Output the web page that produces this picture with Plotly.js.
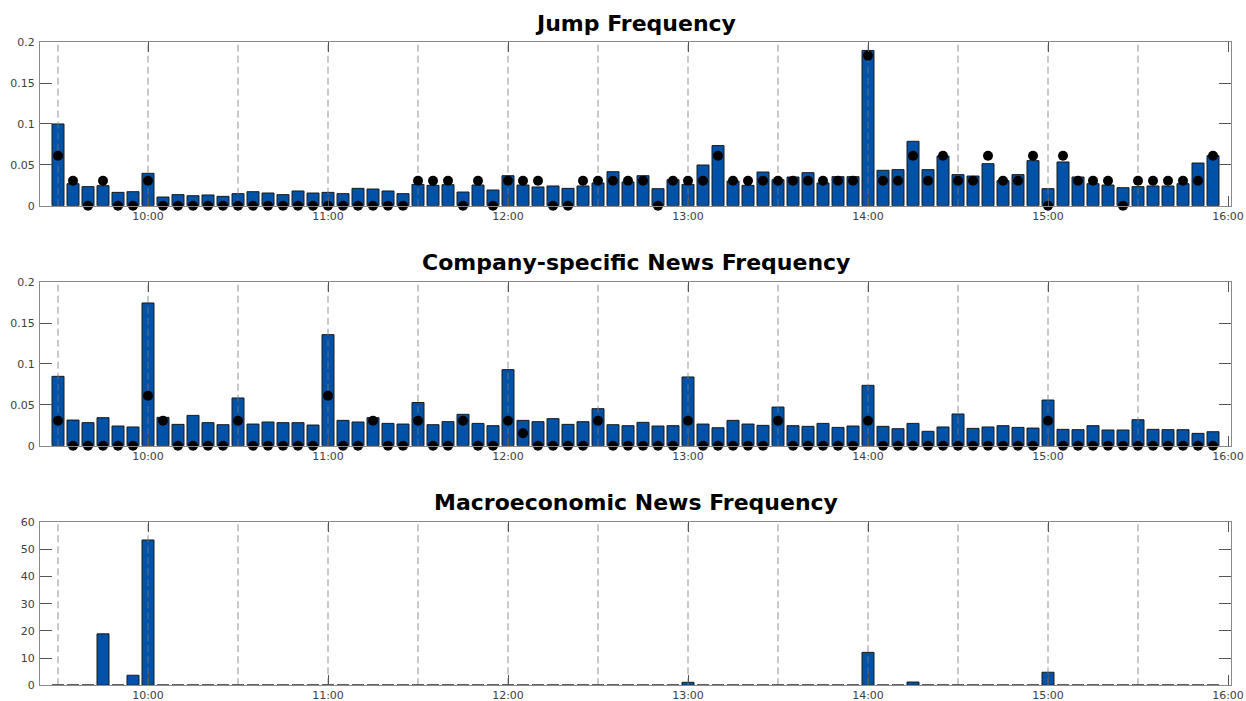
<!DOCTYPE html>
<html>
<head>
<meta charset="utf-8">
<script src="https://cdn.plot.ly/plotly-3.0.1.min.js"></script>
<style>html,body{margin:0;padding:0;background:#fff;}#chart{width:1246px;height:701px;}</style>
</head>
<body>
<div id="chart"></div>
<script>
// 5-minute slots from 09:30 to 15:55 (index 0..77)
const hourTickSlots = [6, 18, 30, 42, 54, 66, 78];
const hourTickLabels = ["10:00", "11:00", "12:00", "13:00", "14:00", "15:00", "16:00"];
const halfHourSlots = [0, 6, 12, 18, 24, 30, 36, 42, 48, 54, 60, 66, 72];

const jumpFreq = [
  0.100, 0.0269, 0.0233, 0.0245, 0.0163, 0.0171, 0.0396, 0.0106, 0.0135, 0.0122,
  0.0131, 0.0114, 0.0147, 0.0171, 0.0155, 0.0135, 0.0180, 0.0155, 0.0163, 0.0147,
  0.0212, 0.0204, 0.0180, 0.0147, 0.0261, 0.0249, 0.0257, 0.0167, 0.0253, 0.0192,
  0.0367, 0.0253, 0.0229, 0.0241, 0.0212, 0.0241, 0.0278, 0.0416, 0.0290, 0.0367,
  0.0208, 0.0318, 0.0261, 0.0498, 0.0735, 0.0302, 0.0249, 0.0412, 0.0318, 0.0351,
  0.0404, 0.0278, 0.0355, 0.0355, 0.190, 0.0433, 0.0441, 0.0788, 0.0441, 0.0608,
  0.0380, 0.0363, 0.0514, 0.0306, 0.0380, 0.0551, 0.0208, 0.0535, 0.0351, 0.0269,
  0.0253, 0.0220, 0.0233, 0.0241, 0.0241, 0.0269, 0.0522, 0.0612
];
const jumpDots = [
  0.0612, 0.0306, 0, 0.0306, 0, 0, 0.0306, 0, 0, 0,
  0, 0, 0, 0, 0, 0, 0, 0, 0, 0,
  0, 0, 0, 0, 0.0306, 0.0306, 0.0306, 0, 0.0306, 0,
  0.0306, 0.0306, 0.0306, 0, 0, 0.0306, 0.0306, 0.0306, 0.0306, 0.0306,
  0, 0.0306, 0.0306, 0.0306, 0.0612, 0.0306, 0.0306, 0.0306, 0.0306, 0.0306,
  0.0306, 0.0306, 0.0306, 0.0306, 0.1837, 0.0306, 0.0306, 0.0612, 0.0306, 0.0612,
  0.0306, 0.0306, 0.0612, 0.0306, 0.0306, 0.0612, 0, 0.0612, 0.0306, 0.0306,
  0.0306, 0, 0.0306, 0.0306, 0.0306, 0.0306, 0.0306, 0.0612
];

const companyFreq = [
  0.0849, 0.0314, 0.0282, 0.0343, 0.0241, 0.0229, 0.1747, 0.0347, 0.0261, 0.0371,
  0.0282, 0.0257, 0.0584, 0.0265, 0.0290, 0.0282, 0.0282, 0.0253, 0.1359, 0.0310,
  0.0290, 0.0343, 0.0273, 0.0265, 0.0529, 0.0257, 0.0294, 0.0384, 0.0273, 0.0245,
  0.0931, 0.0310, 0.0294, 0.0331, 0.0261, 0.0294, 0.0453, 0.0257, 0.0245, 0.0286,
  0.0241, 0.0245, 0.0841, 0.0265, 0.0220, 0.0310, 0.0265, 0.0249, 0.0473, 0.0245,
  0.0237, 0.0273, 0.0224, 0.0241, 0.0739, 0.0237, 0.0208, 0.0273, 0.0176, 0.0229,
  0.0388, 0.0212, 0.0229, 0.0245, 0.0224, 0.0216, 0.0559, 0.0200, 0.0196, 0.0245,
  0.0192, 0.0192, 0.0318, 0.0200, 0.0196, 0.0196, 0.0151, 0.0171
];
const companyDots = [
  0.0306, 0, 0, 0, 0, 0, 0.0612, 0.0306, 0, 0,
  0, 0, 0.0306, 0, 0, 0, 0, 0, 0.0612, 0,
  0, 0.0306, 0, 0, 0.0306, 0, 0, 0.0306, 0, 0,
  0.0306, 0.0153, 0, 0, 0, 0, 0.0306, 0, 0, 0,
  0, 0, 0.0306, 0, 0, 0, 0, 0, 0.0306, 0,
  0, 0, 0, 0, 0.0306, 0, 0, 0, 0, 0,
  0, 0, 0, 0, 0, 0, 0.0306, 0, 0, 0,
  0, 0, 0, 0, 0, 0, 0, 0
];

const macroFreq = [
  0, 0, 0, 18.9, 0, 3.7, 53.4, 0, 0, 0,
  0, 0, 0, 0, 0, 0, 0, 0, 0, 0,
  0, 0, 0, 0, 0, 0, 0, 0, 0, 0,
  0, 0, 0, 0, 0, 0, 0, 0, 0, 0,
  0, 0, 1.1, 0, 0, 0, 0, 0, 0, 0,
  0, 0, 0, 0, 12.1, 0, 0, 1.2, 0, 0,
  0, 0, 0, 0, 0, 0, 4.8, 0, 0, 0,
  0, 0, 0, 0, 0, 0, 0, 0
];

const titles = ["Jump Frequency", "Company-specific News Frequency", "Macroeconomic News Frequency"];

const slots = jumpFreq.map((_, i) => i);
const barColor = "#0052a8";
const barWidth = 0.8;
const edge = {color: "#1a1a1a", width: 1};

function barTrace(y, ax) {
  return {type: "bar", x: slots, y: y, xaxis: "x" + ax, yaxis: "y" + ax, width: barWidth,
    marker: {color: barColor, line: edge}, hoverinfo: "x+y", showlegend: false};
}
function dotTrace(y, ax) {
  return {type: "scatter", mode: "markers", x: slots, y: y, xaxis: "x" + ax, yaxis: "y" + ax,
    marker: {color: "#000", size: 10}, cliponaxis: false, showlegend: false, hoverinfo: "x+y"};
}
// dashed half-hour guide lines, drawn above bars but below dots
function gridTrace(ax, top) {
  const gx = [], gy = [];
  halfHourSlots.forEach(s => { gx.push(s, s, null); gy.push(0, top, null); });
  return {type: "scatter", mode: "lines", x: gx, y: gy, xaxis: "x" + ax, yaxis: "y" + ax,
    line: {color: "rgba(120,120,120,0.8)", width: 1, dash: "7px,4px"},
    hoverinfo: "skip", showlegend: false};
}
// outline of zero-height bars (drawn as short segments on the baseline)
function zeroBarTrace(y, ax) {
  const zx = [], zy = [];
  y.forEach((v, i) => { if (v === 0) { zx.push(i - barWidth / 2, i + barWidth / 2, null); zy.push(0, 0, null); } });
  return {type: "scatter", mode: "lines", x: zx, y: zy, xaxis: "x" + ax, yaxis: "y" + ax,
    line: {color: "#1a1a1a", width: 1.5}, cliponaxis: false, hoverinfo: "skip", showlegend: false};
}

const data = [
  barTrace(jumpFreq, ""), gridTrace("", 0.2), dotTrace(jumpDots, ""),
  barTrace(companyFreq, "2"), gridTrace("2", 0.2), dotTrace(companyDots, "2"),
  barTrace(macroFreq, "3"), gridTrace("3", 60), zeroBarTrace(macroFreq, "3")
];

const axisFont = {family: "DejaVu Sans", size: 11, color: "#404040"};
function xAxis(anchor) {
  return {anchor: anchor, range: [-1.2, 78.2], tickvals: hourTickSlots, ticktext: hourTickLabels,
    ticks: "inside", ticklen: 10, tickcolor: "#555", tickwidth: 1, showgrid: false, zeroline: false,
    showline: true, linecolor: "#8a8a8a", linewidth: 1, mirror: "ticks", tickfont: axisFont,
    fixedrange: true, layer: "above traces"};
}
function yAxis(anchor, domain, range, dtick) {
  return {anchor: anchor, domain: domain, range: range, dtick: dtick, tick0: 0,
    ticks: "inside", ticklen: 12, tickcolor: "#555", tickwidth: 1, showgrid: false, zeroline: false,
    showline: true, linecolor: "#8a8a8a", linewidth: 1, mirror: "ticks", tickfont: axisFont,
    ticklabelstandoff: 2, fixedrange: true};
}

const titleY = [0.967, 0.625, 0.2825];
const annotations = titles.map((t, k) => ({
  text: t, xref: "paper", yref: "paper", x: 0.5, y: titleY[k], xanchor: "center", yanchor: "middle",
  showarrow: false, font: {family: "DejaVu Sans", size: 22, color: "#000", weight: "bold"}
}));

const layout = {
  width: 1246, height: 701,
  margin: {l: 40, r: 15, t: 0, b: 0},
  paper_bgcolor: "#fff", plot_bgcolor: "#fff",
  font: axisFont,
  bargap: 0,
  xaxis: xAxis("y"), xaxis2: xAxis("y2"), xaxis3: xAxis("y3"),
  yaxis: yAxis("x", [0.7066, 0.9397], [0, 0.2], 0.05),
  yaxis2: yAxis("x2", [0.3642, 0.5973], [0, 0.2], 0.05),
  yaxis3: yAxis("x3", [0.0224, 0.2553], [0, 60], 10),
  annotations: annotations
};

Plotly.newPlot("chart", data, layout, {displayModeBar: false, staticPlot: true});
</script>
</body>
</html>
